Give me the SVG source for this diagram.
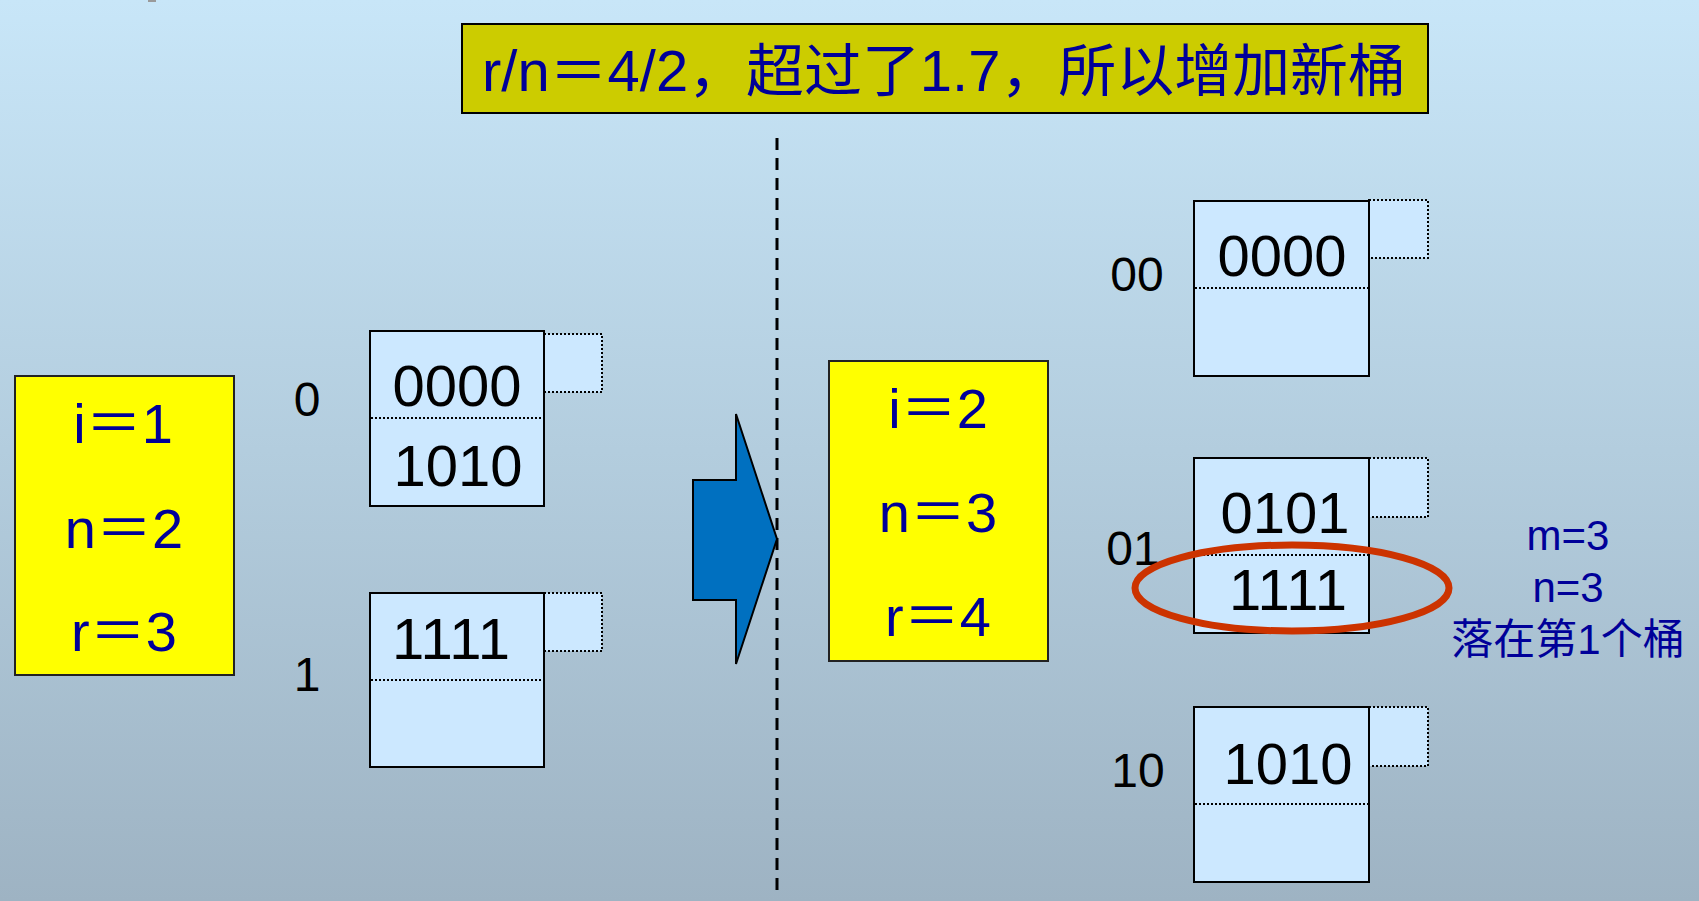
<svg xmlns="http://www.w3.org/2000/svg" width="1699" height="901" viewBox="0 0 1699 901">
<defs>
<linearGradient id="bg" x1="0" y1="0" x2="0" y2="1">
<stop offset="0" stop-color="#C8E6F8"/>
<stop offset="0.5" stop-color="#B3CDDE"/>
<stop offset="1" stop-color="#9EB3C3"/>
</linearGradient>
<style>
.lat{font-family:"Liberation Sans","Noto Sans CJK SC",sans-serif;}
.blue{fill:#000099;}
.num{fill:#000;font-size:58px;text-anchor:middle;}
.lbl{fill:#000;font-size:48px;text-anchor:middle;}
.var{font-size:56px;text-anchor:middle;}
.bucket{fill:#CCE8FF;stroke:#000;stroke-width:2;}
.over{fill:#CCE8FF;stroke:#000;stroke-width:2;stroke-dasharray:2 2;}
.div{stroke:#000;stroke-width:2;stroke-dasharray:2 2;fill:none;}
.ybox{fill:#FFFF00;stroke:#222;stroke-width:2;}
.note{font-size:42px;text-anchor:middle;}
</style>
</defs>
<rect x="0" y="0" width="1699" height="901" fill="url(#bg)"/>
<rect x="148" y="0" width="8" height="2" fill="#9A9A9A"/>

<g id="title">
<rect x="462" y="24" width="966" height="89" fill="#CCCC00" stroke="#000" stroke-width="2"/>
<text x="482" y="91" class="lat blue" font-size="57" textLength="924" lengthAdjust="spacingAndGlyphs">r/n＝4/2，超过了1.7，所以增加新桶</text>
</g>

<g id="params-old">
<rect class="ybox" x="15" y="376" width="219" height="299"/>
<text x="123" y="443" class="lat blue var">i＝1</text>
<text x="124" y="548" class="lat blue var">n＝2</text>
<text x="124" y="651" class="lat blue var">r＝3</text>
</g>

<g id="bucket-0">
<text x="307" y="416" class="lat lbl">0</text>
<rect class="over" x="544" y="334" width="58" height="58"/>
<rect class="bucket" x="370" y="331" width="174" height="175"/>
<line class="div" x1="371" y1="418" x2="543" y2="418"/>
<text x="457" y="406" class="lat num">0000</text>
<text x="458" y="486" class="lat num">1010</text>
</g>

<g id="bucket-1">
<text x="307" y="691" class="lat lbl">1</text>
<rect class="over" x="544" y="593" width="58" height="58"/>
<rect class="bucket" x="370" y="593" width="174" height="174"/>
<line class="div" x1="371" y1="680" x2="543" y2="680"/>
<text x="451" y="659" class="lat num" textLength="118" lengthAdjust="spacing">1111</text>
</g>

<g id="connectors">
<line x1="777" y1="138" x2="777" y2="894" stroke="#000" stroke-width="3" stroke-dasharray="12 8"/>
<polygon points="693,480 736,480 736,414 777,539 736,664 736,600 693,600" fill="#0070C0" stroke="#000" stroke-width="2"/>
</g>

<g id="params-new">
<rect class="ybox" x="829" y="361" width="219" height="300"/>
<text x="938" y="428" class="lat blue var">i＝2</text>
<text x="938" y="532" class="lat blue var">n＝3</text>
<text x="938" y="636" class="lat blue var">r＝4</text>
</g>

<g id="bucket-00">
<text x="1137" y="291" class="lat lbl">00</text>
<rect class="over" x="1369" y="200" width="59" height="58"/>
<rect class="bucket" x="1194" y="201" width="175" height="175"/>
<line class="div" x1="1195" y1="288" x2="1368" y2="288"/>
<text x="1282" y="276" class="lat num">0000</text>
</g>

<g id="bucket-01">
<text x="1133" y="565" class="lat lbl">01</text>
<rect class="over" x="1369" y="458" width="59" height="59"/>
<rect class="bucket" x="1194" y="458" width="175" height="175"/>
<line class="div" x1="1195" y1="555" x2="1368" y2="555"/>
<text x="1285" y="533" class="lat num">0101</text>
<text x="1288" y="610" class="lat num" textLength="118" lengthAdjust="spacing">1111</text>
<ellipse cx="1292" cy="588" rx="157" ry="43" fill="none" stroke="#CC3300" stroke-width="7"/>
</g>

<g id="note">
<text x="1568" y="550" class="lat blue note">m=3</text>
<text x="1568" y="602" class="lat blue note">n=3</text>
<text x="1568" y="654" class="lat blue note" font-size="43">落在第1个桶</text>
</g>

<g id="bucket-10">
<text x="1138" y="787" class="lat lbl">10</text>
<rect class="over" x="1369" y="707" width="59" height="59"/>
<rect class="bucket" x="1194" y="707" width="175" height="175"/>
<line class="div" x1="1195" y1="804" x2="1368" y2="804"/>
<text x="1288" y="784" class="lat num">1010</text>
</g>
</svg>
